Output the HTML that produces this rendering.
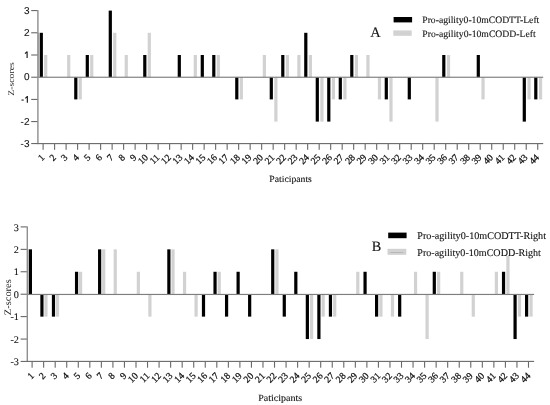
<!DOCTYPE html>
<html><head><meta charset="utf-8"><style>
html,body{margin:0;padding:0;background:#fff;}
body{width:550px;height:405px;overflow:hidden;}
svg{display:block;filter:grayscale(1);}
.xl{stroke-width:0.25px;}
text{font-family:"Liberation Serif", serif;fill:#111;stroke:#111;stroke-width:0.1px;text-rendering:geometricPrecision;}
</style></head><body>
<svg width="550" height="405" viewBox="0 0 550 405">
<rect width="550" height="405" fill="#fff"/>
<rect x="44.1" y="55" width="3.2" height="22.2" fill="#d2d2d2"/>
<rect x="67.12" y="55" width="3.2" height="22.2" fill="#d2d2d2"/>
<rect x="78.63" y="77.2" width="3.2" height="22.2" fill="#d2d2d2"/>
<rect x="90.14" y="55" width="3.2" height="22.2" fill="#d2d2d2"/>
<rect x="113.15" y="32.8" width="3.2" height="44.4" fill="#d2d2d2"/>
<rect x="124.66" y="55" width="3.2" height="22.2" fill="#d2d2d2"/>
<rect x="147.68" y="32.8" width="3.2" height="44.4" fill="#d2d2d2"/>
<rect x="193.72" y="55" width="3.2" height="22.2" fill="#d2d2d2"/>
<rect x="216.73" y="55" width="3.2" height="22.2" fill="#d2d2d2"/>
<rect x="239.75" y="77.2" width="3.2" height="22.2" fill="#d2d2d2"/>
<rect x="262.77" y="55" width="3.2" height="22.2" fill="#d2d2d2"/>
<rect x="274.28" y="77.2" width="3.2" height="44.4" fill="#d2d2d2"/>
<rect x="285.79" y="55" width="3.2" height="22.2" fill="#d2d2d2"/>
<rect x="297.3" y="55" width="3.2" height="22.2" fill="#d2d2d2"/>
<rect x="308.81" y="55" width="3.2" height="22.2" fill="#d2d2d2"/>
<rect x="320.32" y="77.2" width="3.2" height="44.4" fill="#d2d2d2"/>
<rect x="331.82" y="77.2" width="3.2" height="22.2" fill="#d2d2d2"/>
<rect x="343.33" y="77.2" width="3.2" height="22.2" fill="#d2d2d2"/>
<rect x="354.84" y="55" width="3.2" height="22.2" fill="#d2d2d2"/>
<rect x="366.35" y="55" width="3.2" height="22.2" fill="#d2d2d2"/>
<rect x="377.86" y="77.2" width="3.2" height="22.2" fill="#d2d2d2"/>
<rect x="389.37" y="77.2" width="3.2" height="44.4" fill="#d2d2d2"/>
<rect x="435.41" y="77.2" width="3.2" height="44.4" fill="#d2d2d2"/>
<rect x="446.91" y="55" width="3.2" height="22.2" fill="#d2d2d2"/>
<rect x="481.44" y="77.2" width="3.2" height="22.2" fill="#d2d2d2"/>
<rect x="527.48" y="77.2" width="3.2" height="22.2" fill="#d2d2d2"/>
<rect x="538.99" y="77.2" width="3.2" height="22.2" fill="#d2d2d2"/>
<rect x="39.7" y="32.8" width="3.2" height="44.4" fill="#000"/>
<rect x="74.2" y="77.2" width="3.2" height="22.2" fill="#000"/>
<rect x="85.7" y="55" width="3.2" height="22.2" fill="#000"/>
<rect x="108.7" y="10.6" width="3.2" height="66.6" fill="#000"/>
<rect x="143.2" y="55" width="3.2" height="22.2" fill="#000"/>
<rect x="177.7" y="55" width="3.2" height="22.2" fill="#000"/>
<rect x="200.7" y="55" width="3.2" height="22.2" fill="#000"/>
<rect x="212.2" y="55" width="3.2" height="22.2" fill="#000"/>
<rect x="235.2" y="77.2" width="3.2" height="22.2" fill="#000"/>
<rect x="269.7" y="77.2" width="3.2" height="22.2" fill="#000"/>
<rect x="281.2" y="55" width="3.2" height="22.2" fill="#000"/>
<rect x="304.2" y="32.8" width="3.2" height="44.4" fill="#000"/>
<rect x="315.7" y="77.2" width="3.2" height="44.4" fill="#000"/>
<rect x="327.2" y="77.2" width="3.2" height="44.4" fill="#000"/>
<rect x="338.7" y="77.2" width="3.2" height="22.2" fill="#000"/>
<rect x="350.2" y="55" width="3.2" height="22.2" fill="#000"/>
<rect x="384.7" y="77.2" width="3.2" height="22.2" fill="#000"/>
<rect x="407.7" y="77.2" width="3.2" height="22.2" fill="#000"/>
<rect x="442.2" y="55" width="3.2" height="22.2" fill="#000"/>
<rect x="476.7" y="55" width="3.2" height="22.2" fill="#000"/>
<rect x="522.7" y="77.2" width="3.2" height="44.4" fill="#000"/>
<rect x="534.2" y="77.2" width="3.2" height="22.2" fill="#000"/>
<rect x="37.9" y="32.8" width="1.8" height="44.4" fill="#b4b4b4"/>
<rect x="37.9" y="76.67" width="505.3" height="1.15" fill="#7e7e7e"/>
<rect x="37.2" y="10.1" width="1.4" height="134" fill="#8e8e8e"/>
<rect x="37.2" y="143.05" width="506" height="1.1" fill="#686868"/>
<rect x="31.2" y="143.1" width="6.2" height="1.0" fill="#5a5a5a"/>
<rect x="31.2" y="121.1" width="6.2" height="1.0" fill="#5a5a5a"/>
<rect x="31.2" y="98.9" width="6.2" height="1.0" fill="#5a5a5a"/>
<rect x="31.2" y="76.7" width="6.2" height="1.0" fill="#5a5a5a"/>
<rect x="31.2" y="54.5" width="6.2" height="1.0" fill="#5a5a5a"/>
<rect x="31.2" y="32.3" width="6.2" height="1.0" fill="#5a5a5a"/>
<rect x="31.2" y="10.1" width="6.2" height="1.0" fill="#5a5a5a"/>
<rect x="42.55" y="143.6" width="1.1" height="6.2" fill="#686868"/>
<rect x="54.05" y="143.6" width="1.1" height="6.2" fill="#686868"/>
<rect x="65.56" y="143.6" width="1.1" height="6.2" fill="#686868"/>
<rect x="77.06" y="143.6" width="1.1" height="6.2" fill="#686868"/>
<rect x="88.56" y="143.6" width="1.1" height="6.2" fill="#686868"/>
<rect x="100.07" y="143.6" width="1.1" height="6.2" fill="#686868"/>
<rect x="111.57" y="143.6" width="1.1" height="6.2" fill="#686868"/>
<rect x="123.07" y="143.6" width="1.1" height="6.2" fill="#686868"/>
<rect x="134.57" y="143.6" width="1.1" height="6.2" fill="#686868"/>
<rect x="146.08" y="143.6" width="1.1" height="6.2" fill="#686868"/>
<rect x="157.58" y="143.6" width="1.1" height="6.2" fill="#686868"/>
<rect x="169.08" y="143.6" width="1.1" height="6.2" fill="#686868"/>
<rect x="180.59" y="143.6" width="1.1" height="6.2" fill="#686868"/>
<rect x="192.09" y="143.6" width="1.1" height="6.2" fill="#686868"/>
<rect x="203.59" y="143.6" width="1.1" height="6.2" fill="#686868"/>
<rect x="215.09" y="143.6" width="1.1" height="6.2" fill="#686868"/>
<rect x="226.6" y="143.6" width="1.1" height="6.2" fill="#686868"/>
<rect x="238.1" y="143.6" width="1.1" height="6.2" fill="#686868"/>
<rect x="249.6" y="143.6" width="1.1" height="6.2" fill="#686868"/>
<rect x="261.11" y="143.6" width="1.1" height="6.2" fill="#686868"/>
<rect x="272.61" y="143.6" width="1.1" height="6.2" fill="#686868"/>
<rect x="284.11" y="143.6" width="1.1" height="6.2" fill="#686868"/>
<rect x="295.62" y="143.6" width="1.1" height="6.2" fill="#686868"/>
<rect x="307.12" y="143.6" width="1.1" height="6.2" fill="#686868"/>
<rect x="318.62" y="143.6" width="1.1" height="6.2" fill="#686868"/>
<rect x="330.12" y="143.6" width="1.1" height="6.2" fill="#686868"/>
<rect x="341.63" y="143.6" width="1.1" height="6.2" fill="#686868"/>
<rect x="353.13" y="143.6" width="1.1" height="6.2" fill="#686868"/>
<rect x="364.63" y="143.6" width="1.1" height="6.2" fill="#686868"/>
<rect x="376.14" y="143.6" width="1.1" height="6.2" fill="#686868"/>
<rect x="387.64" y="143.6" width="1.1" height="6.2" fill="#686868"/>
<rect x="399.14" y="143.6" width="1.1" height="6.2" fill="#686868"/>
<rect x="410.65" y="143.6" width="1.1" height="6.2" fill="#686868"/>
<rect x="422.15" y="143.6" width="1.1" height="6.2" fill="#686868"/>
<rect x="433.65" y="143.6" width="1.1" height="6.2" fill="#686868"/>
<rect x="445.16" y="143.6" width="1.1" height="6.2" fill="#686868"/>
<rect x="456.66" y="143.6" width="1.1" height="6.2" fill="#686868"/>
<rect x="468.16" y="143.6" width="1.1" height="6.2" fill="#686868"/>
<rect x="479.66" y="143.6" width="1.1" height="6.2" fill="#686868"/>
<rect x="491.17" y="143.6" width="1.1" height="6.2" fill="#686868"/>
<rect x="502.67" y="143.6" width="1.1" height="6.2" fill="#686868"/>
<rect x="514.17" y="143.6" width="1.1" height="6.2" fill="#686868"/>
<rect x="525.68" y="143.6" width="1.1" height="6.2" fill="#686868"/>
<rect x="537.18" y="143.6" width="1.1" height="6.2" fill="#686868"/>
<text x="29.5" y="147" text-anchor="end" style='font-family:"Liberation Sans", sans-serif' font-size="10">-3</text>
<text x="29.5" y="124.8" text-anchor="end" style='font-family:"Liberation Sans", sans-serif' font-size="10">-2</text>
<path d="M27.35 96.1V102.8M25.3 98.4L27.35 96.4" stroke="#1a1a1a" stroke-width="1.15" fill="none"/>
<rect x="21.5" y="99.5" width="2.2" height="1.1" fill="#1a1a1a"/>
<text x="29.5" y="80.4" text-anchor="end" style='font-family:"Liberation Sans", sans-serif' font-size="10">0</text>
<path d="M27.1 51.4V58.1M25 53.7L27.1 51.7" stroke="#1a1a1a" stroke-width="1.15" fill="none"/>
<text x="29.5" y="36" text-anchor="end" style='font-family:"Liberation Sans", sans-serif' font-size="10">2</text>
<text x="29.5" y="13.8" text-anchor="end" style='font-family:"Liberation Sans", sans-serif' font-size="10">3</text>
<text class="xl" transform="translate(45.1 158) rotate(-45)" text-anchor="end" font-size="9.6">1</text>
<text class="xl" transform="translate(56.6 158) rotate(-45)" text-anchor="end" font-size="9.6">2</text>
<text class="xl" transform="translate(68.11 158) rotate(-45)" text-anchor="end" font-size="9.6">3</text>
<text class="xl" transform="translate(79.61 158) rotate(-45)" text-anchor="end" font-size="9.6">4</text>
<text class="xl" transform="translate(91.11 158) rotate(-45)" text-anchor="end" font-size="9.6">5</text>
<text class="xl" transform="translate(102.62 158) rotate(-45)" text-anchor="end" font-size="9.6">6</text>
<text class="xl" transform="translate(114.12 158) rotate(-45)" text-anchor="end" font-size="9.6">7</text>
<text class="xl" transform="translate(125.62 158) rotate(-45)" text-anchor="end" font-size="9.6">8</text>
<text class="xl" transform="translate(137.12 158) rotate(-45)" text-anchor="end" font-size="9.6">9</text>
<text class="xl" transform="translate(148.63 158) rotate(-45)" text-anchor="end" font-size="9.6">10</text>
<text class="xl" transform="translate(160.13 158) rotate(-45)" text-anchor="end" font-size="9.6">11</text>
<text class="xl" transform="translate(171.63 158) rotate(-45)" text-anchor="end" font-size="9.6">12</text>
<text class="xl" transform="translate(183.14 158) rotate(-45)" text-anchor="end" font-size="9.6">13</text>
<text class="xl" transform="translate(194.64 158) rotate(-45)" text-anchor="end" font-size="9.6">14</text>
<text class="xl" transform="translate(206.14 158) rotate(-45)" text-anchor="end" font-size="9.6">15</text>
<text class="xl" transform="translate(217.65 158) rotate(-45)" text-anchor="end" font-size="9.6">16</text>
<text class="xl" transform="translate(229.15 158) rotate(-45)" text-anchor="end" font-size="9.6">17</text>
<text class="xl" transform="translate(240.65 158) rotate(-45)" text-anchor="end" font-size="9.6">18</text>
<text class="xl" transform="translate(252.15 158) rotate(-45)" text-anchor="end" font-size="9.6">19</text>
<text class="xl" transform="translate(263.66 158) rotate(-45)" text-anchor="end" font-size="9.6">20</text>
<text class="xl" transform="translate(275.16 158) rotate(-45)" text-anchor="end" font-size="9.6">21</text>
<text class="xl" transform="translate(286.66 158) rotate(-45)" text-anchor="end" font-size="9.6">22</text>
<text class="xl" transform="translate(298.17 158) rotate(-45)" text-anchor="end" font-size="9.6">23</text>
<text class="xl" transform="translate(309.67 158) rotate(-45)" text-anchor="end" font-size="9.6">24</text>
<text class="xl" transform="translate(321.17 158) rotate(-45)" text-anchor="end" font-size="9.6">25</text>
<text class="xl" transform="translate(332.68 158) rotate(-45)" text-anchor="end" font-size="9.6">26</text>
<text class="xl" transform="translate(344.18 158) rotate(-45)" text-anchor="end" font-size="9.6">27</text>
<text class="xl" transform="translate(355.68 158) rotate(-45)" text-anchor="end" font-size="9.6">28</text>
<text class="xl" transform="translate(367.18 158) rotate(-45)" text-anchor="end" font-size="9.6">29</text>
<text class="xl" transform="translate(378.69 158) rotate(-45)" text-anchor="end" font-size="9.6">30</text>
<text class="xl" transform="translate(390.19 158) rotate(-45)" text-anchor="end" font-size="9.6">31</text>
<text class="xl" transform="translate(401.69 158) rotate(-45)" text-anchor="end" font-size="9.6">32</text>
<text class="xl" transform="translate(413.2 158) rotate(-45)" text-anchor="end" font-size="9.6">33</text>
<text class="xl" transform="translate(424.7 158) rotate(-45)" text-anchor="end" font-size="9.6">34</text>
<text class="xl" transform="translate(436.2 158) rotate(-45)" text-anchor="end" font-size="9.6">35</text>
<text class="xl" transform="translate(447.71 158) rotate(-45)" text-anchor="end" font-size="9.6">36</text>
<text class="xl" transform="translate(459.21 158) rotate(-45)" text-anchor="end" font-size="9.6">37</text>
<text class="xl" transform="translate(470.71 158) rotate(-45)" text-anchor="end" font-size="9.6">38</text>
<text class="xl" transform="translate(482.21 158) rotate(-45)" text-anchor="end" font-size="9.6">39</text>
<text class="xl" transform="translate(493.72 158) rotate(-45)" text-anchor="end" font-size="9.6">40</text>
<text class="xl" transform="translate(505.22 158) rotate(-45)" text-anchor="end" font-size="9.6">41</text>
<text class="xl" transform="translate(516.72 158) rotate(-45)" text-anchor="end" font-size="9.6">42</text>
<text class="xl" transform="translate(528.23 158) rotate(-45)" text-anchor="end" font-size="9.6">43</text>
<text class="xl" transform="translate(539.73 158) rotate(-45)" text-anchor="end" font-size="9.6">44</text>
<rect x="44.35" y="294.2" width="3.2" height="22.43" fill="#d2d2d2"/>
<rect x="55.9" y="294.2" width="3.2" height="22.43" fill="#d2d2d2"/>
<rect x="79" y="271.77" width="3.2" height="22.43" fill="#d2d2d2"/>
<rect x="102.1" y="249.34" width="3.2" height="44.86" fill="#d2d2d2"/>
<rect x="113.65" y="249.34" width="3.2" height="44.86" fill="#d2d2d2"/>
<rect x="136.75" y="271.77" width="3.2" height="22.43" fill="#d2d2d2"/>
<rect x="148.3" y="294.2" width="3.2" height="22.43" fill="#d2d2d2"/>
<rect x="171.4" y="249.34" width="3.2" height="44.86" fill="#d2d2d2"/>
<rect x="182.95" y="271.77" width="3.2" height="22.43" fill="#d2d2d2"/>
<rect x="194.5" y="294.2" width="3.2" height="22.43" fill="#d2d2d2"/>
<rect x="217.6" y="271.77" width="3.2" height="22.43" fill="#d2d2d2"/>
<rect x="275.35" y="249.34" width="3.2" height="44.86" fill="#d2d2d2"/>
<rect x="310" y="294.2" width="3.2" height="44.86" fill="#d2d2d2"/>
<rect x="321.55" y="294.2" width="3.2" height="22.43" fill="#d2d2d2"/>
<rect x="333.1" y="294.2" width="3.2" height="22.43" fill="#d2d2d2"/>
<rect x="356.2" y="271.77" width="3.2" height="22.43" fill="#d2d2d2"/>
<rect x="379.3" y="294.2" width="3.2" height="22.43" fill="#d2d2d2"/>
<rect x="390.85" y="294.2" width="3.2" height="22.43" fill="#d2d2d2"/>
<rect x="413.95" y="271.77" width="3.2" height="22.43" fill="#d2d2d2"/>
<rect x="425.5" y="294.2" width="3.2" height="44.86" fill="#d2d2d2"/>
<rect x="437.05" y="271.77" width="3.2" height="22.43" fill="#d2d2d2"/>
<rect x="460.15" y="271.77" width="3.2" height="22.43" fill="#d2d2d2"/>
<rect x="471.7" y="294.2" width="3.2" height="22.43" fill="#d2d2d2"/>
<rect x="494.8" y="271.77" width="3.2" height="22.43" fill="#d2d2d2"/>
<rect x="506.35" y="249.34" width="3.2" height="44.86" fill="#d2d2d2"/>
<rect x="517.9" y="294.2" width="3.2" height="22.43" fill="#d2d2d2"/>
<rect x="529.45" y="294.2" width="3.2" height="22.43" fill="#d2d2d2"/>
<rect x="28.8" y="249.34" width="3.2" height="44.86" fill="#000"/>
<rect x="40.34" y="294.2" width="3.2" height="22.43" fill="#000"/>
<rect x="51.88" y="294.2" width="3.2" height="22.43" fill="#000"/>
<rect x="74.96" y="271.77" width="3.2" height="22.43" fill="#000"/>
<rect x="98.04" y="249.34" width="3.2" height="44.86" fill="#000"/>
<rect x="167.28" y="249.34" width="3.2" height="44.86" fill="#000"/>
<rect x="201.9" y="294.2" width="3.2" height="22.43" fill="#000"/>
<rect x="213.44" y="271.77" width="3.2" height="22.43" fill="#000"/>
<rect x="224.98" y="294.2" width="3.2" height="22.43" fill="#000"/>
<rect x="236.52" y="271.77" width="3.2" height="22.43" fill="#000"/>
<rect x="248.06" y="294.2" width="3.2" height="22.43" fill="#000"/>
<rect x="271.14" y="249.34" width="3.2" height="44.86" fill="#000"/>
<rect x="282.68" y="294.2" width="3.2" height="22.43" fill="#000"/>
<rect x="294.22" y="271.77" width="3.2" height="22.43" fill="#000"/>
<rect x="305.76" y="294.2" width="3.2" height="44.86" fill="#000"/>
<rect x="317.3" y="294.2" width="3.2" height="44.86" fill="#000"/>
<rect x="328.84" y="294.2" width="3.2" height="22.43" fill="#000"/>
<rect x="363.46" y="271.77" width="3.2" height="22.43" fill="#000"/>
<rect x="375" y="294.2" width="3.2" height="22.43" fill="#000"/>
<rect x="398.08" y="294.2" width="3.2" height="22.43" fill="#000"/>
<rect x="432.7" y="271.77" width="3.2" height="22.43" fill="#000"/>
<rect x="501.94" y="271.77" width="3.2" height="22.43" fill="#000"/>
<rect x="513.48" y="294.2" width="3.2" height="44.86" fill="#000"/>
<rect x="525.02" y="294.2" width="3.2" height="22.43" fill="#000"/>
<rect x="27.3" y="249.34" width="1.5" height="44.86" fill="#b4b4b4"/>
<rect x="27.3" y="293.88" width="506.8" height="1.15" fill="#7e7e7e"/>
<rect x="26.6" y="226.41" width="1.4" height="135.49" fill="#8e8e8e"/>
<rect x="26.6" y="360.85" width="507.5" height="1.1" fill="#686868"/>
<rect x="20.6" y="360.9" width="6.2" height="1.0" fill="#5a5a5a"/>
<rect x="20.6" y="338.56" width="6.2" height="1.0" fill="#5a5a5a"/>
<rect x="20.6" y="316.13" width="6.2" height="1.0" fill="#5a5a5a"/>
<rect x="20.6" y="293.7" width="6.2" height="1.0" fill="#5a5a5a"/>
<rect x="20.6" y="271.27" width="6.2" height="1.0" fill="#5a5a5a"/>
<rect x="20.6" y="248.84" width="6.2" height="1.0" fill="#5a5a5a"/>
<rect x="20.6" y="226.41" width="6.2" height="1.0" fill="#5a5a5a"/>
<rect x="31.55" y="361.4" width="1.1" height="6.3" fill="#686868"/>
<rect x="43.09" y="361.4" width="1.1" height="6.3" fill="#686868"/>
<rect x="54.64" y="361.4" width="1.1" height="6.3" fill="#686868"/>
<rect x="66.18" y="361.4" width="1.1" height="6.3" fill="#686868"/>
<rect x="77.73" y="361.4" width="1.1" height="6.3" fill="#686868"/>
<rect x="89.27" y="361.4" width="1.1" height="6.3" fill="#686868"/>
<rect x="100.81" y="361.4" width="1.1" height="6.3" fill="#686868"/>
<rect x="112.36" y="361.4" width="1.1" height="6.3" fill="#686868"/>
<rect x="123.9" y="361.4" width="1.1" height="6.3" fill="#686868"/>
<rect x="135.45" y="361.4" width="1.1" height="6.3" fill="#686868"/>
<rect x="146.99" y="361.4" width="1.1" height="6.3" fill="#686868"/>
<rect x="158.53" y="361.4" width="1.1" height="6.3" fill="#686868"/>
<rect x="170.08" y="361.4" width="1.1" height="6.3" fill="#686868"/>
<rect x="181.62" y="361.4" width="1.1" height="6.3" fill="#686868"/>
<rect x="193.17" y="361.4" width="1.1" height="6.3" fill="#686868"/>
<rect x="204.71" y="361.4" width="1.1" height="6.3" fill="#686868"/>
<rect x="216.25" y="361.4" width="1.1" height="6.3" fill="#686868"/>
<rect x="227.8" y="361.4" width="1.1" height="6.3" fill="#686868"/>
<rect x="239.34" y="361.4" width="1.1" height="6.3" fill="#686868"/>
<rect x="250.89" y="361.4" width="1.1" height="6.3" fill="#686868"/>
<rect x="262.43" y="361.4" width="1.1" height="6.3" fill="#686868"/>
<rect x="273.97" y="361.4" width="1.1" height="6.3" fill="#686868"/>
<rect x="285.52" y="361.4" width="1.1" height="6.3" fill="#686868"/>
<rect x="297.06" y="361.4" width="1.1" height="6.3" fill="#686868"/>
<rect x="308.61" y="361.4" width="1.1" height="6.3" fill="#686868"/>
<rect x="320.15" y="361.4" width="1.1" height="6.3" fill="#686868"/>
<rect x="331.69" y="361.4" width="1.1" height="6.3" fill="#686868"/>
<rect x="343.24" y="361.4" width="1.1" height="6.3" fill="#686868"/>
<rect x="354.78" y="361.4" width="1.1" height="6.3" fill="#686868"/>
<rect x="366.33" y="361.4" width="1.1" height="6.3" fill="#686868"/>
<rect x="377.87" y="361.4" width="1.1" height="6.3" fill="#686868"/>
<rect x="389.41" y="361.4" width="1.1" height="6.3" fill="#686868"/>
<rect x="400.96" y="361.4" width="1.1" height="6.3" fill="#686868"/>
<rect x="412.5" y="361.4" width="1.1" height="6.3" fill="#686868"/>
<rect x="424.05" y="361.4" width="1.1" height="6.3" fill="#686868"/>
<rect x="435.59" y="361.4" width="1.1" height="6.3" fill="#686868"/>
<rect x="447.13" y="361.4" width="1.1" height="6.3" fill="#686868"/>
<rect x="458.68" y="361.4" width="1.1" height="6.3" fill="#686868"/>
<rect x="470.22" y="361.4" width="1.1" height="6.3" fill="#686868"/>
<rect x="481.77" y="361.4" width="1.1" height="6.3" fill="#686868"/>
<rect x="493.31" y="361.4" width="1.1" height="6.3" fill="#686868"/>
<rect x="504.85" y="361.4" width="1.1" height="6.3" fill="#686868"/>
<rect x="516.4" y="361.4" width="1.1" height="6.3" fill="#686868"/>
<rect x="527.94" y="361.4" width="1.1" height="6.3" fill="#686868"/>
<text x="18.9" y="365.09" text-anchor="end" style='font-family:"Liberation Serif", serif' font-size="10.2">-3</text>
<text x="18.9" y="342.66" text-anchor="end" style='font-family:"Liberation Serif", serif' font-size="10.2">-2</text>
<text x="18.9" y="320.23" text-anchor="end" style='font-family:"Liberation Serif", serif' font-size="10.2">-1</text>
<text x="18.9" y="297.8" text-anchor="end" style='font-family:"Liberation Serif", serif' font-size="10.2">0</text>
<text x="18.9" y="275.37" text-anchor="end" style='font-family:"Liberation Serif", serif' font-size="10.2">1</text>
<text x="18.9" y="252.94" text-anchor="end" style='font-family:"Liberation Serif", serif' font-size="10.2">2</text>
<text x="18.9" y="230.51" text-anchor="end" style='font-family:"Liberation Serif", serif' font-size="10.2">3</text>
<text class="xl" transform="translate(34.7 376.4) rotate(-45)" text-anchor="end" font-size="9.6">1</text>
<text class="xl" transform="translate(46.24 376.4) rotate(-45)" text-anchor="end" font-size="9.6">2</text>
<text class="xl" transform="translate(57.79 376.4) rotate(-45)" text-anchor="end" font-size="9.6">3</text>
<text class="xl" transform="translate(69.33 376.4) rotate(-45)" text-anchor="end" font-size="9.6">4</text>
<text class="xl" transform="translate(80.88 376.4) rotate(-45)" text-anchor="end" font-size="9.6">5</text>
<text class="xl" transform="translate(92.42 376.4) rotate(-45)" text-anchor="end" font-size="9.6">6</text>
<text class="xl" transform="translate(103.96 376.4) rotate(-45)" text-anchor="end" font-size="9.6">7</text>
<text class="xl" transform="translate(115.51 376.4) rotate(-45)" text-anchor="end" font-size="9.6">8</text>
<text class="xl" transform="translate(127.05 376.4) rotate(-45)" text-anchor="end" font-size="9.6">9</text>
<text class="xl" transform="translate(138.6 376.4) rotate(-45)" text-anchor="end" font-size="9.6">10</text>
<text class="xl" transform="translate(150.14 376.4) rotate(-45)" text-anchor="end" font-size="9.6">11</text>
<text class="xl" transform="translate(161.68 376.4) rotate(-45)" text-anchor="end" font-size="9.6">12</text>
<text class="xl" transform="translate(173.23 376.4) rotate(-45)" text-anchor="end" font-size="9.6">13</text>
<text class="xl" transform="translate(184.77 376.4) rotate(-45)" text-anchor="end" font-size="9.6">14</text>
<text class="xl" transform="translate(196.32 376.4) rotate(-45)" text-anchor="end" font-size="9.6">15</text>
<text class="xl" transform="translate(207.86 376.4) rotate(-45)" text-anchor="end" font-size="9.6">16</text>
<text class="xl" transform="translate(219.4 376.4) rotate(-45)" text-anchor="end" font-size="9.6">17</text>
<text class="xl" transform="translate(230.95 376.4) rotate(-45)" text-anchor="end" font-size="9.6">18</text>
<text class="xl" transform="translate(242.49 376.4) rotate(-45)" text-anchor="end" font-size="9.6">19</text>
<text class="xl" transform="translate(254.04 376.4) rotate(-45)" text-anchor="end" font-size="9.6">20</text>
<text class="xl" transform="translate(265.58 376.4) rotate(-45)" text-anchor="end" font-size="9.6">21</text>
<text class="xl" transform="translate(277.12 376.4) rotate(-45)" text-anchor="end" font-size="9.6">22</text>
<text class="xl" transform="translate(288.67 376.4) rotate(-45)" text-anchor="end" font-size="9.6">23</text>
<text class="xl" transform="translate(300.21 376.4) rotate(-45)" text-anchor="end" font-size="9.6">24</text>
<text class="xl" transform="translate(311.76 376.4) rotate(-45)" text-anchor="end" font-size="9.6">25</text>
<text class="xl" transform="translate(323.3 376.4) rotate(-45)" text-anchor="end" font-size="9.6">26</text>
<text class="xl" transform="translate(334.84 376.4) rotate(-45)" text-anchor="end" font-size="9.6">27</text>
<text class="xl" transform="translate(346.39 376.4) rotate(-45)" text-anchor="end" font-size="9.6">28</text>
<text class="xl" transform="translate(357.93 376.4) rotate(-45)" text-anchor="end" font-size="9.6">29</text>
<text class="xl" transform="translate(369.48 376.4) rotate(-45)" text-anchor="end" font-size="9.6">30</text>
<text class="xl" transform="translate(381.02 376.4) rotate(-45)" text-anchor="end" font-size="9.6">31</text>
<text class="xl" transform="translate(392.56 376.4) rotate(-45)" text-anchor="end" font-size="9.6">32</text>
<text class="xl" transform="translate(404.11 376.4) rotate(-45)" text-anchor="end" font-size="9.6">33</text>
<text class="xl" transform="translate(415.65 376.4) rotate(-45)" text-anchor="end" font-size="9.6">34</text>
<text class="xl" transform="translate(427.2 376.4) rotate(-45)" text-anchor="end" font-size="9.6">35</text>
<text class="xl" transform="translate(438.74 376.4) rotate(-45)" text-anchor="end" font-size="9.6">36</text>
<text class="xl" transform="translate(450.28 376.4) rotate(-45)" text-anchor="end" font-size="9.6">37</text>
<text class="xl" transform="translate(461.83 376.4) rotate(-45)" text-anchor="end" font-size="9.6">38</text>
<text class="xl" transform="translate(473.37 376.4) rotate(-45)" text-anchor="end" font-size="9.6">39</text>
<text class="xl" transform="translate(484.92 376.4) rotate(-45)" text-anchor="end" font-size="9.6">40</text>
<text class="xl" transform="translate(496.46 376.4) rotate(-45)" text-anchor="end" font-size="9.6">41</text>
<text class="xl" transform="translate(508 376.4) rotate(-45)" text-anchor="end" font-size="9.6">42</text>
<text class="xl" transform="translate(519.55 376.4) rotate(-45)" text-anchor="end" font-size="9.6">43</text>
<text class="xl" transform="translate(531.09 376.4) rotate(-45)" text-anchor="end" font-size="9.6">44</text>

<!-- Panel A legend -->
<text x="370.3" y="36.8" font-size="14.5">A</text>
<rect x="393.6" y="17" width="18.5" height="5.4" fill="#000"/>
<rect x="393.3" y="30.4" width="18.4" height="5.4" fill="#d2d2d2"/>
<text x="422.3" y="23.2" font-size="9.7" textLength="117" lengthAdjust="spacingAndGlyphs">Pro-agility0-10mCODTT-Left</text>
<text x="422.3" y="36.6" font-size="9.7" textLength="113.3" lengthAdjust="spacingAndGlyphs">Pro-agility0-10mCODD-Left</text>
<text x="290.6" y="181.9" font-size="9.4" text-anchor="middle" textLength="42.6" lengthAdjust="spacingAndGlyphs">Paticipants</text>
<text transform="translate(13.7 79) rotate(-90)" font-size="8.6" text-anchor="middle" textLength="33.4" lengthAdjust="spacingAndGlyphs" style="stroke-width:0;fill:#2a2a2a">Z-scores</text>

<!-- Panel B legend -->
<rect x="383" y="226" width="167" height="29.9" fill="#fff"/>
<text x="371.8" y="251.2" font-size="14.3">B</text>
<rect x="388.2" y="232.6" width="18.4" height="5.6" fill="#000"/>
<rect x="387.9" y="249.1" width="18.1" height="5.4" fill="#d2d2d2" stroke="#c8c8c8" stroke-width="0.5"/>
<rect x="390.4" y="252.1" width="13" height="0.8" fill="#b0b0b0"/>
<text x="417.3" y="238.5" font-size="10.2" textLength="128.7" lengthAdjust="spacingAndGlyphs">Pro-agility0-10mCODTT-Right</text>
<text x="417.3" y="255.5" font-size="10.2" textLength="123.6" lengthAdjust="spacingAndGlyphs">Pro-agility0-10mCODD-Right</text>
<text x="280.2" y="400.5" font-size="9.6" text-anchor="middle" textLength="43.9" lengthAdjust="spacingAndGlyphs">Paticipants</text>
<text transform="translate(11.2 297.2) rotate(-90)" font-size="9.8" text-anchor="middle" textLength="36" lengthAdjust="spacingAndGlyphs" style="stroke-width:0;fill:#222">Z-scores</text>

</svg>
</body></html>
